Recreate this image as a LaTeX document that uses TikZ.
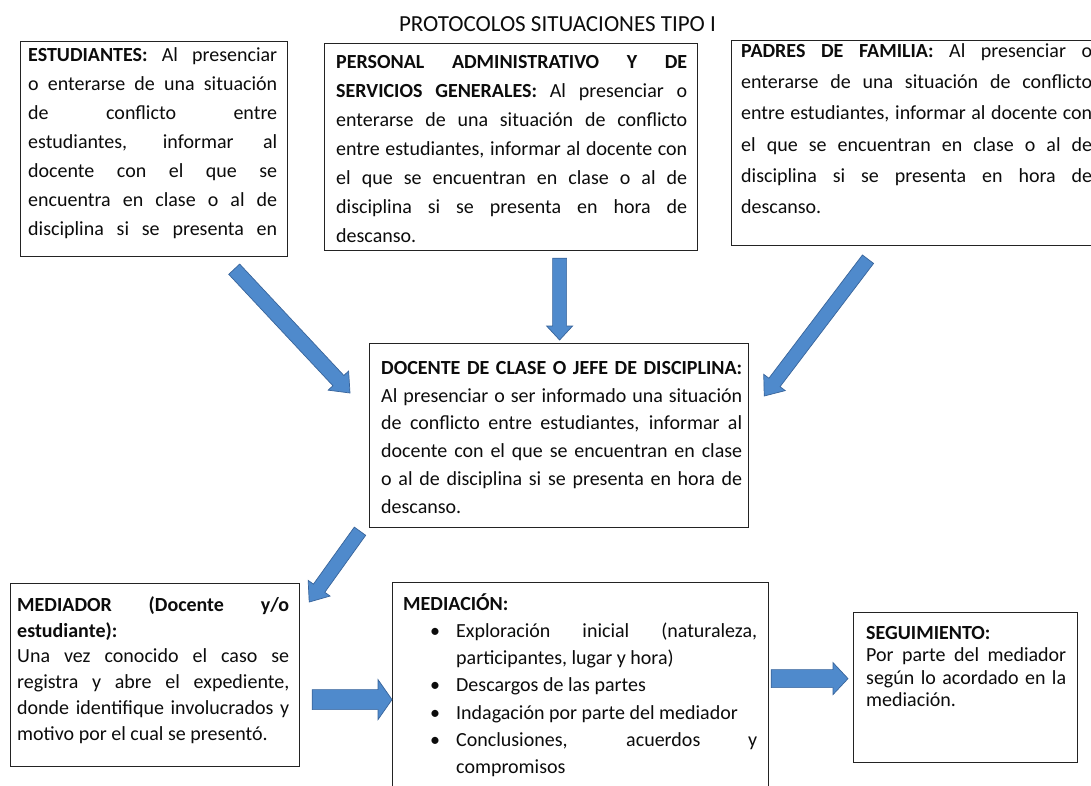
\documentclass[tikz,border=0pt]{standalone}
\usepackage{fontspec}
\setmainfont{Carlito}
\usetikzlibrary{calc}
\definecolor{arrowfill}{RGB}{79,138,204}
\definecolor{arrowline}{RGB}{56,100,155}
\definecolor{boxline}{RGB}{35,35,35}
\definecolor{textc}{RGB}{12,12,12}
\newlength\jw
\newcommand\jl[1]{\makebox[\jw][s]{\spaceskip=0pt\xspaceskip=0pt #1}}
\newcommand\fl{\rule{0pt}{18pt}}
\newcommand\bul{\hspace*{27pt}\makebox[26pt][l]{\textbullet}}
\newcommand\ind{\hspace*{53pt}}
\newcommand\blockarrow[5]{%
  \coordinate (ba-b) at ($(#2)!#5!(#1)$);
  \filldraw[arrowstyle] ($(#1)!#3!90:(#2)$) -- ($(ba-b)!#3!90:(#2)$) -- ($(ba-b)!#4!90:(#2)$) -- (#2) -- ($(ba-b)!#4!-90:(#2)$) -- ($(ba-b)!#3!-90:(#2)$) -- ($(#1)!#3!-90:(#2)$) -- cycle;}
\tikzset{
  box/.style={draw=boxline, line width=1.2pt, fill=white, inner sep=0pt, anchor=north west},
  txt/.style={anchor=north west, inner sep=0pt, align=justify, text=textc, text width=#1,
    execute at begin node={\setlength{\parindent}{0pt}\setlength{\lineskiplimit}{-100pt}\setlength{\jw}{#1}\spaceskip=0pt\xspaceskip=0pt}},
  arrowstyle/.style={fill=arrowfill, draw=arrowline, line width=0.7pt, line join=miter},
}
\begin{document}
\begin{tikzpicture}[x=1pt, y=-1pt]
\useasboundingbox (0,0) rectangle (1091,785);
\fill[white] (0,0) rectangle (1091,785);
\begin{scope}
\clip (0,0) rectangle (1091,785);

\node[anchor=base, text=textc, font=\fontsize{23}{27}\selectfont, inner sep=0pt] (title) at (557.5,31) {PROTOCOLOS SITUACIONES TIPO I};

% boxes
\node[box, minimum width=267pt, minimum height=215pt] (est) at (20,41) {};
\node[box, minimum width=373pt, minimum height=207pt] (per) at (324,43) {};
\node[box, minimum width=372pt, minimum height=205pt] (par) at (731,40) {};
\node[box, minimum width=379pt, minimum height=184pt] (doc) at (369,343) {};
\node[box, minimum width=289pt, minimum height=183pt] (med) at (10,583) {};
\node[box, minimum width=376pt, minimum height=215pt] (mdc) at (392,582) {};
\node[box, minimum width=224pt, minimum height=150pt] (seg) at (853,612) {};

% texts
\node[txt=249pt, font=\fontsize{20}{29}\selectfont] (estT) at (28,43) {%
\fl\jl{\textbf{ESTUDIANTES:} Al presenciar}\\
\jl{o enterarse de una situación}\\
\jl{de conflicto entre}\\
\jl{estudiantes, informar al}\\
\jl{docente con el que se}\\
\jl{encuentra en clase o al de}\\
\jl{disciplina si se presenta en}};

\node[txt=351pt, font=\fontsize{20}{29}\selectfont] (perT) at (336,50) {%
\fl\jl{\textbf{PERSONAL ADMINISTRATIVO Y DE}}\\
\jl{\textbf{SERVICIOS GENERALES:} Al presenciar o}\\
\jl{enterarse de una situación de conflicto}\\
\jl{entre estudiantes, informar al docente con}\\
\jl{el que se encuentran en clase o al de}\\
\jl{disciplina si se presenta en hora de}\\
descanso.};

\node[txt=351pt, font=\fontsize{20}{31.3}\selectfont] (parT) at (741,39) {%
\fl\jl{\textbf{PADRES DE FAMILIA:} Al presenciar o}\\
\jl{enterarse de una situación de conflicto}\\
\jl{entre estudiantes, informar al docente con}\\
\jl{el que se encuentran en clase o al de}\\
\jl{disciplina si se presenta en hora de}\\
descanso.};

\node[txt=361pt, font=\fontsize{20}{27.8}\selectfont] (docT) at (381,356) {%
\fl\jl{\textbf{DOCENTE DE CLASE O JEFE DE DISCIPLINA:}}\\
\jl{Al presenciar o ser informado una situación}\\
\jl{de conflicto entre estudiantes, informar al}\\
\jl{docente con el que se encuentran en clase}\\
\jl{o al de disciplina si se presenta en hora de}\\
descanso.};

\node[txt=272pt, font=\fontsize{20}{25.8}\selectfont] (medT) at (17,593) {%
\fl\jl{\textbf{MEDIADOR (Docente y/o}}\\
\textbf{estudiante):}\\
\jl{Una vez conocido el caso se}\\
\jl{registra y abre el expediente,}\\
\jl{donde identifique involucrados y}\\
motivo por el cual se presentó.};

\node[txt=354pt, font=\fontsize{20}{27.2}\selectfont] (mdcT) at (403,592) {%
\fl\textbf{MEDIACIÓN:}\\
\bul\makebox[301pt][s]{\spaceskip=0pt Exploración inicial (naturaleza,}\\
\ind participantes, lugar y hora)\\
\bul Descargos de las partes\\
\bul Indagación por parte del mediador\\
\bul\makebox[301pt][s]{\spaceskip=0pt Conclusiones, acuerdos y}\\
\ind compromisos};

\node[txt=200pt, font=\fontsize{20}{22.5}\selectfont] (segT) at (866,621) {%
\fl\textbf{SEGUIMIENTO:}\\
\jl{Por parte del mediador}\\
\jl{según lo acordado en la}\\
mediación.};

% arrow end points
\coordinate (a1s) at ($(est.south east)+(-54,12)$);
\coordinate (a1e) at ($(doc.north west)+(-19,50)$);
\coordinate (a2s) at ($(per.south)+(48.5,7)$);
\coordinate (a2e) at ($(doc.north)+(0.5,-3)$);
\coordinate (a3s) at ($(par.south west)+(137,13)$);
\coordinate (a3e) at ($(doc.north east)+(15,53)$);
\coordinate (a4s) at ($(doc.south west)+(-9,3)$);
\coordinate (a4e) at ($(med.north east)+(9,19)$);
\coordinate (a5s) at ($(med.east)+(12,24.5)$);
\coordinate (a5e) at ($(mdc.west)+(0,9.5)$);
\coordinate (a6s) at ($(mdc.east)+(2,-11.5)$);
\coordinate (a6e) at ($(seg.west)+(-5,-9)$);

\blockarrow{a1s}{a1e}{7.5pt}{14pt}{17pt}
\blockarrow{a2s}{a2e}{7pt}{13pt}{14pt}
\blockarrow{a3s}{a3e}{7pt}{13.5pt}{17pt}
\blockarrow{a4s}{a4e}{7pt}{13.5pt}{17pt}
\blockarrow{a5s}{a5e}{10pt}{20pt}{14pt}
\blockarrow{a6s}{a6e}{9pt}{16pt}{15pt}
\end{scope}
\end{tikzpicture}
\end{document}
